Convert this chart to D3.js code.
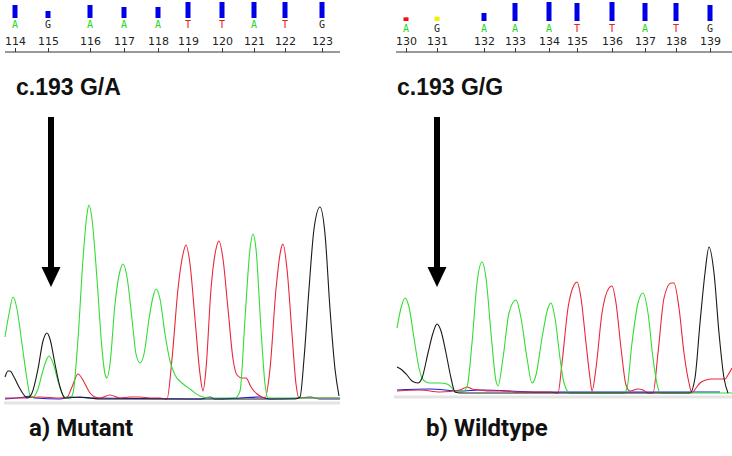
<!DOCTYPE html>
<html>
<head>
<meta charset="utf-8">
<script src="https://cdn.jsdelivr.net/npm/d3@7"></script>
<style>
  body { margin: 0; background: #fff; }
  svg { display: block; }
</style>
</head>
<body>
<svg id="chart" width="732" height="456"></svg>
<script>
// base calls (scan position, base, quality) for each panel
const mutPositions = [114, 115, 116, 117, 118, 119, 120, 121, 122, 123];
const mutBases = ["A", "G", "A", "A", "A", "T", "T", "A", "T", "G"];
const mutScans = [15, 48, 90, 124, 158, 188, 222, 254, 285, 322];
const mutQual = [39, 21, 39, 33, 33, 48, 48, 48, 48, 48];

const wtPositions = [130, 131, 132, 133, 134, 135, 136, 137, 138, 139];
const wtBases = ["A", "G", "A", "A", "A", "T", "T", "A", "T", "G"];
const wtScans = [16, 47, 94, 125, 159, 187, 222, 255, 286, 320];
const wtQual = [11, 13, 24, 54, 57, 54, 57, 54, 54, 48];

// traces: [scan, signal]
const mutGreen = [[5,62],[9,85],[13,102],[17,90],[22,55],[27,20],[30,4],[33,2],[38,10],[42,25],[46,38],[49,43],[53,36],[58,18],[63,4],[66,1],[70,1],[73,6],[78,60],[83,140],[87,185],[89,194],[92,180],[97,120],[102,50],[105,25],[107,21],[110,35],[115,95],[120,128],[123,135],[127,122],[132,80],[136,45],[140,36],[144,45],[149,80],[153,102],[156,110],[160,100],[165,65],[170,38],[175,24],[182,16],[190,10],[200,3],[210,1],[235,1],[240,8],[245,80],[250,150],[253,165],[256,150],[261,70],[265,15],[268,1],[340,1]];
const mutRed = [[5,1],[20,1],[40,2],[60,1],[67,2],[72,12],[78,25],[84,17],[90,6],[95,2],[100,1],[110,4],[120,1],[130,2],[140,2],[150,1],[160,1],[167,0],[172,40],[178,110],[183,145],[186,154],[190,135],[195,80],[200,25],[203,8],[206,30],[211,110],[216,150],[219,158],[223,140],[228,90],[233,40],[237,24],[242,21],[246,21],[251,12],[257,5],[262,2],[265,1],[270,30],[276,110],[281,150],[283,155],[287,130],[292,65],[296,15],[299,1],[320,1],[330,1],[340,1]];
const mutBlack = [[5,22],[8,28],[10,28],[14,22],[19,12],[24,4],[27,1],[32,6],[38,30],[43,58],[47,66],[50,60],[55,35],[60,12],[65,1],[80,2],[90,1],[100,0],[295,0],[300,2],[304,40],[309,110],[314,170],[320,192],[325,165],[330,90],[335,30],[339,3]];
const mutBlue = [[5,0],[25,2],[30,3],[35,1],[60,0],[70,2],[90,1],[200,0],[205,1],[210,2],[215,0],[240,1],[260,2],[270,0],[300,1],[310,2],[320,0],[340,0]];

const wtGreen = [[7,65],[11,85],[15,95],[19,86],[24,55],[29,25],[32,15],[36,11],[40,10],[50,10],[57,9],[62,5],[65,1],[72,1],[77,6],[82,50],[87,110],[92,131],[96,115],[101,60],[106,12],[108,7],[113,35],[119,80],[126,93],[131,75],[137,35],[142,10],[146,18],[152,55],[158,85],[161,90],[165,75],[170,35],[174,10],[180,0],[234,0],[237,5],[242,50],[248,90],[253,100],[258,80],[263,35],[268,5],[270,0],[342,0]];
const wtRed = [[7,2],[30,3],[50,1],[70,3],[77,6],[82,4],[90,3],[100,2],[110,2],[130,1],[160,1],[168,0],[172,30],[178,85],[184,108],[187,111],[191,95],[196,50],[200,15],[202,2],[206,25],[212,80],[219,105],[222,107],[226,90],[231,45],[236,8],[240,2],[248,4],[253,3],[258,0],[263,0],[268,40],[274,95],[281,110],[284,110],[289,85],[294,40],[299,10],[302,0],[306,5],[310,10],[316,13],[322,14],[330,14],[335,14],[338,18],[342,25]];
const wtBlack = [[7,26],[12,23],[17,18],[22,12],[28,10],[32,15],[38,40],[43,60],[47,69],[51,62],[56,40],[61,15],[65,1],[70,0],[300,0],[305,15],[310,70],[315,120],[319,146],[324,120],[329,60],[334,15],[338,0]];
const wtBlue = [[7,3],[40,4],[70,2],[90,3],[150,1],[200,1],[250,1],[300,1],[330,1]];

const baseColor = { A: "#22d622", C: "#1010e0", G: "#222", T: "#e02020" };
const traceColor = { green: "#33dd33", red: "#e8283a", black: "#1a1a1a", blue: "#1a1ae6" };

let svg = d3.select("#chart");

function drawPanel(p) {
    let g = svg.append("g");

    let x = d3.scaleLinear().domain(p.scanDomain).range(p.xRange);
    let y = d3.scaleLinear().domain([0, 200]).range([p.baseline, p.baseline - 200]);
    let q = d3.scaleLinear().domain([0, 60]).range([0, 20]);

    // quality bars
    g.selectAll(".qbar")
        .data(p.qual)
        .enter().append("rect")
        .attr("x", (d, i) => x(p.scans[i]) - 2.5)
        .attr("y", d => p.barBottom - q(d))
        .attr("width", 5)
        .attr("height", d => q(d))
        .attr("fill", d => d < 12 ? "#f01010" : d < 15 ? "#f0f000" : "#0000e8");

    // base letters
    g.selectAll(".base")
        .data(p.bases)
        .enter().append("text")
        .attr("x", (d, i) => x(p.scans[i]))
        .attr("y", p.letterY)
        .attr("text-anchor", "middle")
        .attr("font-family", "DejaVu Sans Mono, monospace")
        .attr("font-size", 10)
        .attr("fill", d => baseColor[d])
        .text(d => d);

    // position axis
    let axis = d3.axisTop(x)
        .tickValues(p.scans)
        .tickFormat((d, i) => p.positions[i])
        .tickSize(4)
        .tickSizeOuter(0)
        .tickPadding(3);
    let ax = g.append("g")
        .attr("transform", "translate(0,52)")
        .call(axis);
    ax.select(".domain").attr("stroke", "#333").attr("d", "M" + p.axisX[0] + ",0H" + p.axisX[1]);
    ax.selectAll(".tick line").attr("stroke", "#333");
    ax.selectAll(".tick text")
        .attr("font-family", "DejaVu Sans, sans-serif")
        .attr("font-size", 11)
        .attr("fill", "#222");

    // baseline strip
    g.append("line")
        .attr("x1", p.xRange[0] + 4).attr("x2", p.xRange[1])
        .attr("y1", p.baseline + 4).attr("y2", p.baseline + 4)
        .attr("stroke", "#e4e4e4").attr("stroke-width", 3);

    let line = d3.line()
        .x(d => x(d[0]))
        .y(d => y(d[1]))
        .curve(d3.curveMonotoneX);

    p.traces.forEach(function(t) {
        g.append("path")
            .datum(t.data)
            .attr("fill", "none")
            .attr("stroke", traceColor[t.color])
            .attr("stroke-width", 1.1)
            .attr("d", line);
    });

    // arrow
    let ax0 = x(p.arrowScan);
    g.append("rect")
        .attr("x", ax0 - 3).attr("y", 117)
        .attr("width", 6).attr("height", 152)
        .attr("fill", "#000");
    g.append("path")
        .attr("d", "M" + (ax0 - 9.5) + ",267L" + (ax0 + 9.5) + ",267L" + ax0 + ",287Z")
        .attr("fill", "#000");

    g.append("text")
        .attr("x", p.titleX).attr("y", 95)
        .attr("font-family", "Liberation Sans, Arial, sans-serif")
        .attr("font-weight", "bold")
        .attr("font-size", 23)
        .attr("fill", "#111")
        .text(p.title);

    g.append("text")
        .attr("x", p.labelX).attr("y", 436)
        .attr("font-family", "Roboto, sans-serif")
        .attr("font-weight", "bold")
        .attr("font-size", 24)
        .attr("fill", "#111")
        .text(p.label);
}

drawPanel({
    positions: mutPositions, bases: mutBases, scans: mutScans, qual: mutQual,
    scanDomain: [0, 340], xRange: [0, 340], axisX: [5, 340],
    baseline: 399, barBottom: 18, letterY: 28,
    arrowScan: 51, title: "c.193 G/A", titleX: 16, label: "a) Mutant", labelX: 29,
    traces: [
        { color: "blue", data: mutBlue },
        { color: "red", data: mutRed },
        { color: "green", data: mutGreen },
        { color: "black", data: mutBlack }
    ]
});

drawPanel({
    positions: wtPositions, bases: wtBases, scans: wtScans, qual: wtQual,
    scanDomain: [0, 342], xRange: [390, 732], axisX: [396, 732],
    baseline: 393, barBottom: 21, letterY: 32,
    arrowScan: 47, title: "c.193 G/G", titleX: 397, label: "b) Wildtype", labelX: 426,
    traces: [
        { color: "blue", data: wtBlue },
        { color: "red", data: wtRed },
        { color: "green", data: wtGreen },
        { color: "black", data: wtBlack }
    ]
});
</script>
</body>
</html>
